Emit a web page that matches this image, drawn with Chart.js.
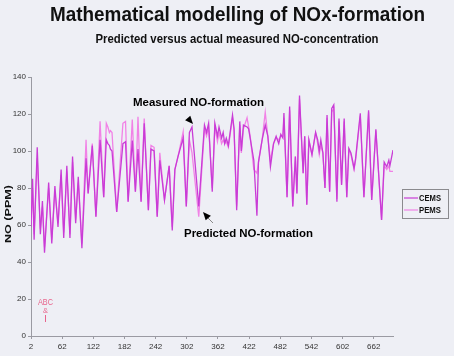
<!DOCTYPE html>
<html><head><meta charset="utf-8">
<script src="https://cdn.jsdelivr.net/npm/chart.js@4"></script>
<style>html,body{margin:0;padding:0;background:#eeeff5;}#wrap{position:relative;width:454px;height:356px;}</style>
</head><body><div id="wrap"><canvas id="c" width="454" height="356"></canvas></div>
<script>
const xValues = [2,5,8,14,20,24,28,36,42,48,54,60,65,71,77,82,88,93,100,108,112,120,127,135,142,147,150,153,155,158,167,179,184,189,197,203,208,214,220,228,233,239,245,250,259,268,274,279,285,295,301,307,312,325,336,340,344,351,356,361,364,369,372,375,378,382,390,393,398,404,407,411,418,421,424,431,437,440,447,453,458,463,469,474,479,483,487,489,495,500,506,511,514,519,526,529,533,537,543,550,554,557,560,564,568,572,577,581,585,591,595,600,605,610,614,618,621,624,627,636,643,652,658,666,677,682,687,691,693,699];
const cemsValues = [59,85,52,102,55,73,45,83,50,81,59,90,53,92,53,97,61,86,47.5,96,77,103,64.5,106,75,106,104,103,101,100,67,104,105,72.6,105.6,78,101,72.6,115,68,101,100,64.5,95,73.5,92,57,90,97,107,70,110,113,70,114,110,115,78,115,108,113,107,110,104,107,103,119.5,112,68,116,100,114,113,112,107,95,65,94,106,114,108,91.5,104,108,104,109,107,120.5,75,124,70,97,77,130,88,108,71,106,98,110,106,100,106,99,80,119.5,78,123,125,72.6,117.6,81.6,117.6,75,101.4,99,95,90.6,96,120.4,75,122,73.5,111.7,62.7,94,91.5,95,92,100.5];
const pemsValues = [62,80,55,96,58,70,48,80,52,78,61,87,56,89,55,94,63,83,50,106,77,104,64.5,116,75,115,113,110,111,110,67,115,116,72.6,117,78,118.5,72.6,117.6,68,103,102,64.5,99,73.5,92,59,90,97,110.4,70,106,99,64.5,112,108,113,80,113,105,110,104,106,104,105,102,118,111,70,114,99,112,118,113,108,90,88,94,106,121,108,95,104,107,106,108,108,118,75,122,70,97,77,128,88,108,71,106,98,110,104,98,103,99,80,118,78,121,123,74,116,82,116,75,101,98,94,90,95,119,75,121,73.5,111,62.7,92,90,92,89,89];
const seriesNames = ['CEMS','PEMS'];
const xTickValues = [2,62,122,182,242,302,362,422,482,542,602,662];
const yTickValues = [0,20,40,60,80,100,120,140];

const CEMS_COLOR = '#c93cd6';
const PEMS_COLOR = '#f182e6';
const AXIS_COLOR = '#9a9aa2';

function fitText(ctx, text, cx, baseY, width, font, color, align) {
  ctx.save();
  ctx.font = font; ctx.fillStyle = color; ctx.textBaseline = 'alphabetic';
  ctx.textAlign = align || 'center';
  const w = ctx.measureText(text).width;
  const s = width / w;
  ctx.translate(cx, baseY); ctx.scale(s, 1); ctx.fillText(text, 0, 0);
  ctx.restore();
}
function triangle(ctx, tip, base1, base2) {
  ctx.beginPath(); ctx.moveTo(tip[0], tip[1]); ctx.lineTo(base1[0], base1[1]); ctx.lineTo(base2[0], base2[1]); ctx.closePath(); ctx.fill();
}

const decor = {
  id: 'decor',
  afterDraw(chart) {
    const ctx = chart.ctx;
    const F = '"Liberation Sans", Arial, sans-serif';
    fitText(ctx, 'Mathematical modelling of NOx-formation', 237.5, 21, 375, 'bold 20px ' + F, '#111');
    fitText(ctx, 'Predicted versus actual measured NO-concentration', 237, 43.3, 283, 'bold 12.5px ' + F, '#111');
    fitText(ctx, 'Measured NO-formation', 198.5, 105.7, 131, 'bold 10.5px ' + F, '#000');
    fitText(ctx, 'Predicted NO-formation', 248.5, 236.7, 129, 'bold 10.5px ' + F, '#000');
    // arrows
    ctx.save();
    ctx.fillStyle = '#000';
    triangle(ctx, [193,124], [185.1,120.3], [190.3,115.7]);
    ctx.strokeStyle = '#888'; ctx.lineWidth = 1;
    ctx.beginPath(); ctx.moveTo(208,218); ctx.lineTo(213,223); ctx.stroke();
    triangle(ctx, [203,212], [205.7,220.3], [210.9,215.7]);
    ctx.restore();
    // y axis title
    ctx.save();
    ctx.translate(10.5, 214); ctx.rotate(-Math.PI/2);
    fitText(ctx, 'NO (PPM)', 0, 0, 58, 'bold 9px ' + F, '#111');
    ctx.restore();
    // ABC & I
    const pink = '#e8648c';
    fitText(ctx, 'ABC', 45.5, 305, 15, '9px ' + F, pink);
    fitText(ctx, '&', 45.5, 313, 5, '8px ' + F, pink);
    ctx.save(); ctx.strokeStyle = pink; ctx.lineWidth = 1;
    ctx.beginPath(); ctx.moveTo(45.5, 315); ctx.lineTo(45.5, 322); ctx.stroke(); ctx.restore();
    // legend
    ctx.save();
    ctx.strokeStyle = '#8a8a8e'; ctx.lineWidth = 1;
    ctx.strokeRect(402.5, 189.5, 46, 29);
    const colors = [CEMS_COLOR, PEMS_COLOR];
    const ys = [198, 210];
    for (let i = 0; i < 2; i++) {
      ctx.strokeStyle = colors[i]; ctx.lineWidth = 1.2;
      ctx.beginPath(); ctx.moveTo(404, ys[i]); ctx.lineTo(418, ys[i]); ctx.stroke();
      fitText(ctx, seriesNames[i], 419, ys[i] + 3, 22, 'bold 9px ' + F, '#111', 'left');
    }
    ctx.restore();
  }
};

const toPoints = arr => arr.map((v, i) => ({x: xValues[i], y: v}));

new Chart(document.getElementById('c'), {
  type: 'line',
  data: {
    datasets: [
      {label: seriesNames[0], data: toPoints(cemsValues), borderColor: CEMS_COLOR, borderWidth: 1.3, pointRadius: 0, tension: 0, order: 0},
      {label: seriesNames[1], data: toPoints(pemsValues), borderColor: PEMS_COLOR, borderWidth: 1.3, pointRadius: 0, tension: 0, order: 1}
    ]
  },
  options: {
    responsive: false,
    animation: false,
    devicePixelRatio: 1,
    layout: {padding: {left: 0, top: 77, right: 61, bottom: 0}},
    plugins: {legend: {display: false}, tooltip: {enabled: false}},
    scales: {
      x: {
        type: 'linear', min: 2, max: 699,
        afterBuildTicks: s => { s.ticks = xTickValues.map(v => ({value: v})); },
        afterFit: s => { s.height = 20; },
        border: {color: AXIS_COLOR, width: 1},
        grid: {display: true, drawOnChartArea: false, drawTicks: true, tickLength: 3, color: AXIS_COLOR},
        ticks: {font: {size: 8, family: '"Liberation Sans", Arial, sans-serif'}, color: '#333', padding: 3, maxRotation: 0, autoSkip: false}
      },
      y: {
        min: 0, max: 140,
        afterBuildTicks: s => { s.ticks = yTickValues.map(v => ({value: v})); },
        afterFit: s => { s.width = 31; },
        border: {color: AXIS_COLOR, width: 1},
        grid: {display: true, drawOnChartArea: false, drawTicks: true, tickLength: 3, color: AXIS_COLOR},
        ticks: {font: {size: 8, family: '"Liberation Sans", Arial, sans-serif'}, color: '#333', padding: 2}
      }
    }
  },
  plugins: [decor]
});
</script>
</body></html>
